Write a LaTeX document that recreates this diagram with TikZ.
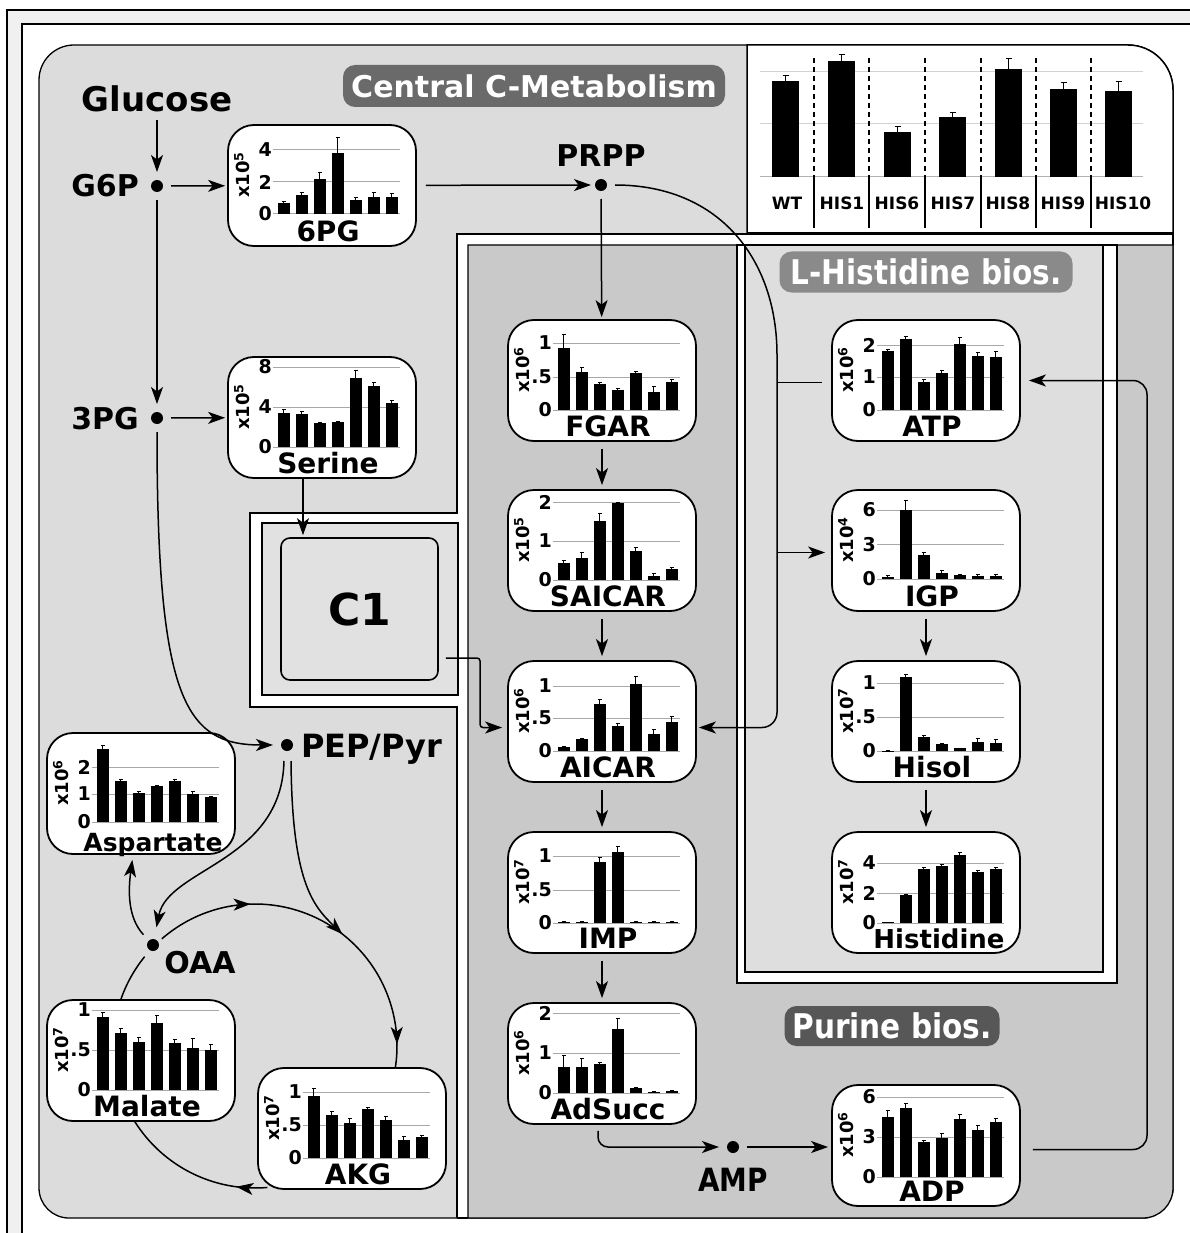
\documentclass[tikz,border=0pt]{standalone}
\usepackage{fontspec}
\setmainfont{DejaVu Sans}
\newfontfamily\condfont[FakeStretch=0.87]{DejaVu Sans}
\usetikzlibrary{arrows.meta,decorations.markings,calc}

\definecolor{bandgray}{HTML}{F0F0F0}
\definecolor{centralgray}{HTML}{DCDCDC}
\definecolor{purinegray}{HTML}{C9C9C9}
\definecolor{hisgray}{HTML}{DEDEDE}
\definecolor{conegray}{HTML}{E1E1E1}
\definecolor{badgedark}{HTML}{6A6A6A}
\definecolor{badgemid}{HTML}{8A8A8A}
\definecolor{badgepur}{HTML}{575757}
\definecolor{gridgray}{HTML}{A8A8A8}

\tikzset{
  >={Stealth[length=17pt,width=12pt,inset=4.5pt]},
  mbox/.style={draw, line width=1.8pt, fill=white, rounded corners=26pt,
    minimum width=188pt, minimum height=121pt, inner sep=0pt},
  arr/.style={line width=1.5pt, ->},
  conn/.style={line width=1.5pt},
  mdot/.style={circle, fill=black, inner sep=0pt, minimum size=12pt, outer sep=8pt},
  met/.style={font=\fontsize{30}{36}\selectfont\bfseries, inner sep=0pt},
  mtitle/.style={font=\fontsize{28}{32}\selectfont\bfseries, inner sep=0pt},
  tickl/.style={font=\fontsize{19}{21}\selectfont\bfseries, inner sep=0pt},
  ylab/.style={font=\fontsize{18}{20}\selectfont\bfseries, inner sep=0pt},
  gridln/.style={draw=gridgray, line width=1pt},
  badge/.style={rounded corners=12pt, text=white, inner sep=0pt},
  leglab/.style={font=\fontsize{17}{20}\selectfont\bfseries, inner sep=0pt},
  region/.style={line width=1.3pt},
  tcamark/.style={decoration={markings, #1}, postaction={decorate}},
}

% metabolite box with a small bar chart
% #1 name, #2 left, #3 top, #4 title, #5 exponent, #6 baseline (rel),
% #7 ticks {height/label}, #8 bars {height/error top}
\newcommand{\metbox}[8]{%
  \node[mbox] (#1) at (#2+94,#3+60.5) {};
  \begin{scope}[shift={(#2,#3)}]
    \foreach \h/\lab [count=\j] in {#7} {
      \draw[gridln] (45,#6-\h) -- (172,#6-\h);
      \node[tickl, anchor=east] (#1-t\j) at (44,#6-\h) {\lab};
    }
    \foreach \h/\e [count=\i] in {#8} {
      \fill (32+18*\i,#6) rectangle ++(11.5,-\h);
      \draw[line width=0.9pt] (37.75+18*\i,#6-\h) -- (37.75+18*\i,#6-\e) ++(-2,0) -- ++(4,0);
    }
    \node[ylab, rotate=90] (#1-unit) at (14,50) {x10\textsuperscript{#5}};
    \node[mtitle, anchor=base] (#1-name) at (100,116) {#4};
  \end{scope}
}

\begin{document}
\begin{tikzpicture}[x=1pt,y=-1pt]
\useasboundingbox (0,0) rectangle (1190,1233);

% page frame
\fill[bandgray] (7,10) rectangle (1190,1233);
\fill[white] (22,24) rectangle (1190,1233);
\draw[line width=1.2pt] (7,1233) -- (7,10) -- (1190,10);
\draw[line width=1.2pt] (22,1233) -- (22,24) -- (1190,24);

% central carbon metabolism compartment
\draw[region, fill=centralgray] (39,1188) -- (39,80)
  arc[start angle=180,end angle=90,radius=35pt] -- (1128,45)
  arc[start angle=90,end angle=0,radius=45pt] -- (1173,1188)
  arc[start angle=0,end angle=-90,radius=30pt] -- (69,1218)
  arc[start angle=-90,end angle=-180,radius=30pt] -- cycle;

% white separating band
\fill[white] (457,234) rectangle (1173,1218);
\fill[white] (250,513) rectangle (468,707);
\draw[region] (457,1218) -- (457,707) -- (250,707) -- (250,513) -- (457,513)
  -- (457,234) -- (1173,234) -- (1173,245);
\draw[region] (457,1218) -- (468,1218);

% purine biosynthesis compartment
\draw[region, fill=purinegray] (468,245) -- (1173,245) -- (1173,1188)
  arc[start angle=0,end angle=-90,radius=30pt] -- (468,1218) -- cycle;

% histidine biosynthesis compartment
\draw[region, fill=white] (737,245) rectangle (1117,983);
\draw[region, fill=hisgray] (745,245) rectangle (1103,972);

% C1 compartment
\draw[region, fill=conegray] (262,523) rectangle (458,695);
\node[draw, line width=1.6pt, fill=conegray, rounded corners=9pt,
  minimum width=157pt, minimum height=142pt, inner sep=0pt,
  font=\fontsize{44}{50}\selectfont\bfseries] (c1) at (359.5,609) {C1};

% legend of strains
\draw[line width=1.5pt, fill=white] (747,233) -- (747,45) -- (1128,45)
  arc[start angle=90,end angle=0,radius=45pt] -- (1173,233) -- cycle;
\draw[draw=gray!35, line width=1pt] (760,72) -- (1143,72) (760,124) -- (1143,124);
\draw[draw=gray!60, line width=1pt] (760,177) -- (1143,177);
\foreach \xl/\tp/\er in {772/81/76, 828/61/55, 884/132/127, 939/117/113,
    995/69/59, 1050/89/83, 1105/91/82} {
  \fill (\xl,177) rectangle (\xl+27,\tp);
  \draw[line width=1pt] (\xl+13.5,\tp) -- (\xl+13.5,\er) ++(-3,0) -- ++(6,0);
}
\foreach \sx in {814,869,925,981,1036,1091} {
  \draw[line width=1.5pt, dash pattern=on 5pt off 4pt] (\sx,58) -- (\sx,177);
  \draw[line width=1.3pt] (\sx,177) -- (\sx,228);
}
\foreach \lx/\lt [count=\k] in {787/WT, 842/HIS1, 897/HIS6, 953/HIS7,
    1008/HIS8, 1063/HIS9, 1123/HIS10} {
  \node[leglab] (leg\k) at (\lx,203) {\lt};
}

% compartment badges
\node[badge, fill=badgedark, minimum width=382pt, minimum height=42pt,
  font=\fontsize{30}{36}\selectfont\bfseries] (bcentral) at (534,86) {Central C-Metabolism};
\node[badge, fill=badgemid, minimum width=293pt, minimum height=41pt,
  font=\condfont\fontsize{34}{38}\selectfont\bfseries] (bhis) at (926,272) {L-Histidine bios.};
\node[badge, fill=badgepur, minimum width=215pt, minimum height=40pt,
  font=\condfont\fontsize{34}{38}\selectfont\bfseries] (bpur) at (892,1026) {Purine bios.};

% metabolite boxes
\metbox{m6pg}{228}{125}{6PG}{5}{89}{0/0,32/2,64/4}{11/13,19/22,35/42,61/77,14/17,17/22,17/21}
\metbox{serine}{228}{357}{Serine}{5}{90}{0/0,40/4,80/8}{34/38,33/36,24/25,25/26,69/77,61/65,44/47}
\metbox{fgar}{508}{320}{FGAR}{6}{90}{0/0,33/.5,67/1}{62/76,38/43,26/28,20/22,37/39,18/24,28/31}
\metbox{saicar}{508}{490}{SAICAR}{5}{90}{0/0,39/1,78/2}{17/20,22/28,59/67,77/78,29/33,4/7,11/13}
\metbox{aicar}{508}{661}{AICAR}{6}{90}{0/0,33/.5,65/1}{4/5,12/13,47/52,25/28,67/75,17/22,29/35}
\metbox{imp}{508}{832}{IMP}{7}{91}{0/0,33/.5,67/1}{1/2,1/2,61/66,71/77,1/2,1/2,1/2}
\metbox{adsucc}{508}{1003}{AdSucc}{6}{90}{0/0,40/1,80/2}{26/38,26/35,29/31,64/75,5/6,1/2,2/3}
\metbox{atp}{832}{320}{ATP}{6}{90}{0/0,33/1,65/2}{59/61,71/74,28/31,37/40,66/73,54/58,53/59}
\metbox{igp}{832}{490}{IGP}{4}{89}{0/0,34.5/3,69/6}{2/4,69/79,24/27,6/9,4/5,3.5/5,3.5/5}
\metbox{hisol}{832}{661}{Hisol}{7}{90}{0/0,34/.5,68/1}{0.5/0.5,74/77,14/16,7/8,3/3,9/13,8/12}
\metbox{histidine}{832}{832}{\fontsize{26}{30}\selectfont\hspace*{14pt}Histidine}{7}{91}{0/0,30/2,60/4}{1/1,28/29,54/56,57/59,68/71,51/53,54/56}
\metbox{adp}{832}{1085}{ADP}{6}{92}{0/0,40/3,80/6}{60/67,69/74,35/37,39/44,58/63,47/52,55/59}
\metbox{asp}{47}{733}{\fontsize{25}{30}\selectfont\hspace*{12pt}\raisebox{-2.5pt}{Aspartate}}{6}{89}{0/0,28/1,55/2}{73/77,41/43,29/31,36/37,41/43,28/31,25/26}
\metbox{malate}{47}{1000}{Malate}{7}{90}{0/0,40/.5,80/1}{73/78,57/62,48/53,67/75,47/51,42/52,40/46}
\metbox{akg}{258}{1068}{AKG}{7}{90}{0/0,33/.5,66/1}{62/70,43/47,35/40,49/51,38/42,18/22,21/23}

% branch points and labels
\node[met, font=\fontsize{34}{40}\selectfont\bfseries, anchor=base] (glc) at (157,112) {Glucose};
\node[mdot] (g6p) at (157,186) {};
\node[met, anchor=base east] (g6pl) at (139,197) {G6P};
\node[mdot] (p3g) at (157,418) {};
\node[met, anchor=base east] (p3gl) at (139,429) {3PG};
\node[mdot] (prpp) at (601,185) {};
\node[met, anchor=base] (prppl) at (601,167) {PRPP};
\node[mdot] (pep) at (287,745) {};
\node[met, font=\fontsize{32}{38}\selectfont\bfseries, anchor=base west] (pepl) at (301,757) {PEP/Pyr};
\node[mdot] (oaa) at (153,945) {};
\node[met, anchor=base] (oaal) at (200,973) {OAA};
\node[mdot] (amp) at (733,1147) {};
\node[met, font=\condfont\fontsize{32}{38}\selectfont\bfseries, anchor=base] (ampl) at (733,1191) {AMP};

% helper points
\coordinate (tca) at (255,1046);
\coordinate (tcain) at ($(tca)+(52:142pt)$);
\coordinate (bus) at (777,370);
\coordinate (aicarR) at ([yshift=-6pt]aicar.east);
\coordinate (aicarL) at ([yshift=-6pt]aicar.west);
\coordinate (c1out) at ([yshift=-49pt]c1.east);
\coordinate (c1bend) at (480,0);
\coordinate (sertop) at ([xshift=-19pt]serine.south);
\coordinate (adpout) at ([yshift=-4pt]adp.east);
\coordinate (retx) at (1147,0);
\coordinate (adsout) at ([xshift=-4pt]adsucc.south);

% glycolysis and pentose phosphate
\draw[arr, shorten <=7pt] (glc) -- (g6p);
\draw[arr, shorten >=2pt] (g6p) -- (m6pg);
\draw[arr] (g6p) -- (p3g);
\draw[arr, shorten >=2pt] (p3g) -- (serine);
\draw[arr, shorten <=9pt, shorten >=-4pt] (m6pg) -- (prpp);
\draw[arr, shorten >=2pt] (prpp) -- (fgar);
\draw[arr] (p3g) .. controls (157,700) and (185,745) .. (pep);
\draw[arr, shorten >=2pt] (sertop) -- (sertop |- c1.north);

% purine pathway
\draw[arr, shorten <=7pt, shorten >=4pt] (fgar) -- (saicar);
\draw[arr, shorten <=7pt, shorten >=4pt] (saicar) -- (aicar);
\draw[arr, shorten <=7pt, shorten >=4pt] (aicar) -- (imp);
\draw[arr, shorten <=7pt, shorten >=4pt] (imp) -- (adsucc);
\draw[arr, rounded corners=10pt, shorten <=6pt] (adsout) -- (adsout |- amp) -- (amp);
\draw[arr, shorten >=3pt] (amp) -- (amp -| adp.west);
\draw[arr, rounded corners=3pt, shorten <=7pt, shorten >=5pt]
  (c1out) -- (c1out -| c1bend) -- (c1bend |- aicarL) -- (aicarL);

% histidine pathway
\draw[arr, rounded corners=15pt, shorten >=2pt]
  (prpp) .. controls (720,185) and (777,260) .. (bus) -- (bus |- aicarR) -- (aicarR);
\draw[conn, shorten <=9pt] ([yshift=-2pt]atp.west) -- ([yshift=-2pt]atp.west -| bus);
\draw[arr, shorten >=6pt] ([yshift=-2pt]igp.west -| bus) -- ([yshift=-2pt]igp.west);
\draw[arr, shorten <=7pt, shorten >=4pt] (igp) -- (hisol);
\draw[arr, shorten <=7pt, shorten >=4pt] (hisol) -- (histidine);
\draw[arr, rounded corners=14pt, shorten <=12pt, shorten >=8pt]
  (adpout) -- (adpout -| retx) -- (atp.east -| retx) -- (atp.east);

% TCA cycle
\draw[arr, shorten <=2pt, shorten >=4pt] ([xshift=-3pt]pep.south) .. controls (282,862) and (168,868) .. (oaa);
\draw[arr, shorten <=2pt] ([xshift=4pt]pep.south) .. controls (292,880) and (312,905) .. (tcain);
\draw[arr, shorten >=5pt] (oaa) .. controls (128,918) and (128,892) .. ([xshift=-8pt]asp.south);
\draw[conn, tcamark={mark=at position 0.28 with {\arrow{>}},
    mark=at position 0.93 with {\arrow{>}}}]
  (tca) ++(131:142pt) arc[start angle=131, end angle=-9, radius=142pt];
\draw[conn, tcamark={mark=at position 0.2 with {\arrow{>}}}]
  (tca) ++(-85:142pt) arc[start angle=-85, end angle=-148, radius=142pt];
\draw[conn] (tca) ++(161:142pt) arc[start angle=161, end angle=141, radius=142pt];
\end{tikzpicture}
\end{document}
